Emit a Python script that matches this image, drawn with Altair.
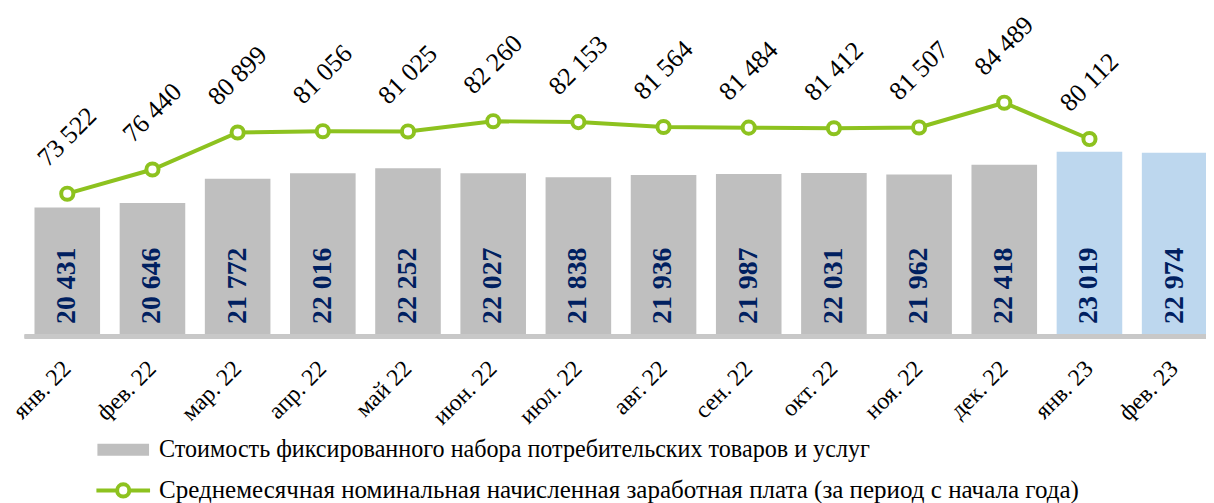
import altair as alt
import pandas as pd

# ---- data ----
months = ["янв. 22", "фев. 22", "мар. 22", "апр. 22", "май 22", "июн. 22", "июл. 22",
          "авг. 22", "сен. 22", "окт. 22", "ноя. 22", "дек. 22", "янв. 23", "фев. 23"]
cost = [20431, 20646, 21772, 22016, 22252, 22027, 21838, 21936, 21987, 22031, 21962, 22418, 23019, 22974]
wage = [73522, 76440, 80899, 81056, 81025, 82260, 82153, 81564, 81484, 81412, 81507, 84489, 80112, None]
year_group = ["2022"] * 12 + ["2023"] * 2
legend_labels = [
    "Стоимость фиксированного набора потребительских товаров и услуг",
    "Среднемесячная номинальная начисленная заработная плата (за период с начала года)",
]

GREEN = "#8DC21F"
GRAY = "#BFBFBF"
BLUE = "#BDD7EE"
NAVY = "#002060"
FONT = "Liberation Serif"


def fmt(v):
    return f"{v:,}".replace(",", " ")


df = pd.DataFrame({
    "month": months,
    "cost": cost,
    "wage": wage,
    "grp": year_group,
    "cost_lbl": [fmt(v) for v in cost],
    "wage_lbl": [fmt(v) if v is not None else "" for v in wage],
})
dfw = df[df["wage"].notna()]

W, H = 1206, 495

xs = alt.Scale(domain=months, range=[16.8, 1217.3], paddingInner=0.23, paddingOuter=0.115)
x_enc = alt.X("month:N", scale=xs, axis=None, sort=months)

bar_scale = alt.Scale(domain=[14560, 23019], range=[327, 143], zero=False)
wage_scale = alt.Scale(domain=[73522, 84489], range=[185.3, 93.7], zero=False)
wage_lbl_scale = alt.Scale(domain=[73522, 84489], range=[128.3, 36.7], zero=False)

base = alt.Chart(df)

bars = base.mark_bar().encode(
    x=x_enc,
    y=alt.Y("cost:Q", scale=bar_scale, axis=None),
    y2=alt.datum(14560),
    color=alt.Color("grp:N", scale=alt.Scale(domain=["2022", "2023"], range=[GRAY, BLUE]), legend=None),
)

axis_line = base.mark_rule(color="#C8C8C8", strokeWidth=4).encode(
    x=alt.value(17), x2=alt.value(W), y=alt.value(329)
)

bar_labels = base.mark_text(
    angle=270, font=FONT, fontSize=28, fontWeight="bold", color=NAVY,
    align="center", baseline="middle"
).encode(x=x_enc, y=alt.value(278), text="cost_lbl:N")

wbase = alt.Chart(dfw)
line = wbase.mark_line(color=GREEN, strokeWidth=4).encode(
    x=x_enc, y=alt.Y("wage:Q", scale=wage_scale, axis=None)
)
points = wbase.mark_point(
    shape="circle", filled=False, fill="white", fillOpacity=1, stroke=GREEN,
    strokeWidth=4, size=150, opacity=1
).encode(x=x_enc, y=alt.Y("wage:Q", scale=wage_scale, axis=None))

wage_labels = wbase.mark_text(
    angle=315, font=FONT, fontSize=26, color="black", align="center", baseline="middle"
).encode(x=x_enc, y=alt.Y("wage:Q", scale=wage_lbl_scale, axis=None), text="wage_lbl:N")

x_labels = base.mark_text(
    angle=315, font=FONT, fontSize=24, color="black", align="right", baseline="middle"
).encode(x=x_enc, y=alt.value(358), text="month:N")

# top decorative green rule
top_rule = alt.Chart(pd.DataFrame({"k": [0]})).mark_rule(
    strokeWidth=2,
    stroke=alt.Gradient(
        gradient="linear",
        stops=[alt.GradientStop(color="#84BA10", offset=0), alt.GradientStop(color="#B8DC7A", offset=1)],
        x1=0, x2=1, y1=0, y2=0,
    ),
).encode(x=alt.value(114), x2=alt.value(1089), y=alt.value(1))

# legend
leg = pd.DataFrame({"label": legend_labels, "row": [0, 1]})
leg_rect = alt.Chart(leg.iloc[[0]]).mark_rect(color=GRAY).encode(
    x=alt.value(90), x2=alt.value(142), y=alt.value(437), y2=alt.value(449)
)
leg_line = alt.Chart(leg.iloc[[1]]).mark_rule(color=GREEN, strokeWidth=4).encode(
    x=alt.value(89), x2=alt.value(143), y=alt.value(484)
)
leg_point = alt.Chart(leg.iloc[[1]]).mark_point(
    shape="circle", filled=False, fill="white", fillOpacity=1, stroke=GREEN,
    strokeWidth=4, size=150, opacity=1
).encode(x=alt.value(116), y=alt.value(484))
leg_text1 = alt.Chart(leg.iloc[[0]]).mark_text(
    font=FONT, fontSize=24.3, align="left", baseline="middle", color="black"
).encode(x=alt.value(152), y=alt.value(443), text="label:N")
leg_text2 = alt.Chart(leg.iloc[[1]]).mark_text(
    font=FONT, fontSize=25.2, align="left", baseline="middle", color="black"
).encode(x=alt.value(152), y=alt.value(484), text="label:N")

chart = alt.layer(
    bars, axis_line, bar_labels, line, points, wage_labels, x_labels,
    top_rule, leg_rect, leg_line, leg_point, leg_text1, leg_text2
).resolve_scale(y="independent", color="independent").properties(
    width=W, height=H, autosize=alt.AutoSizeParams(type="none"), padding=0
).configure_view(stroke=None)

chart.save("out.html", embed_options={"renderer": "svg", "actions": False})
